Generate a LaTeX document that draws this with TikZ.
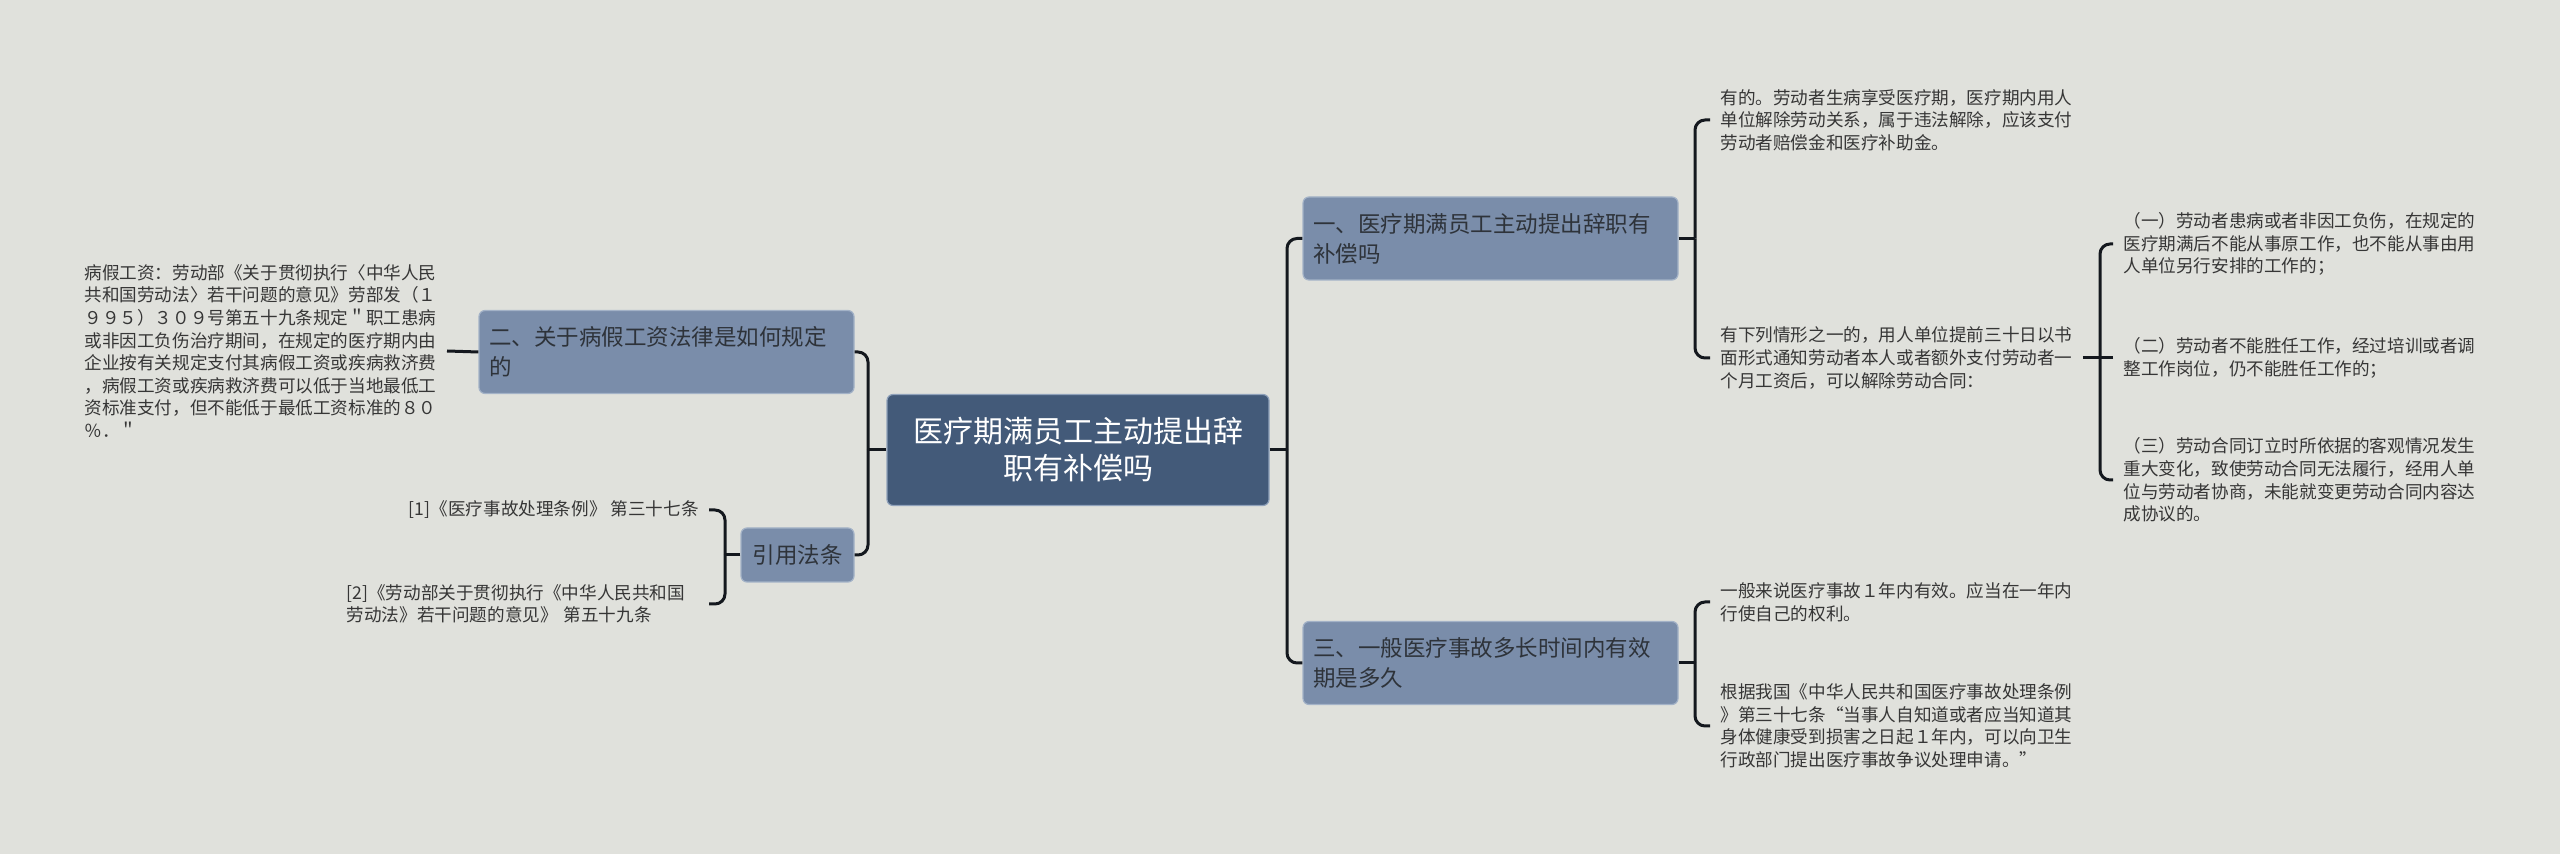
\documentclass[tikz,border=0pt]{standalone}
\usepackage{fontspec}
\setmainfont{Noto Sans CJK SC}
\definecolor{bgc}{HTML}{E0E1DC}
\definecolor{linec}{HTML}{14181E}
\definecolor{rootc}{HTML}{435A79}
\definecolor{rootb}{HTML}{8FA1BA}
\definecolor{midc}{HTML}{7A8DAA}
\definecolor{midb}{HTML}{A3B2C7}
\definecolor{boxtext}{HTML}{2E333A}
\definecolor{leaftext}{HTML}{363636}
\begin{document}
\begin{tikzpicture}[x=0.5pt,y=-0.5pt,
  conn/.style={draw=linec,line width=1.5pt,rounded corners=5pt},
  rootbox/.style={fill=rootc,draw=rootb,line width=0.6pt,rounded corners=3pt,text=white,align=center,font=\fontsize{15}{18.5}\selectfont,minimum width=191pt,minimum height=55.5pt,inner sep=0pt},
  midbox/.style={fill=midc,draw=midb,line width=0.6pt,rounded corners=3pt,text=boxtext,align=left,font=\fontsize{11.25}{15}\selectfont,minimum height=41.5pt,text width=177.5pt,inner xsep=5pt,inner ysep=0pt},
  refbox/.style={fill=midc,draw=midb,line width=0.6pt,rounded corners=3pt,text=boxtext,align=center,font=\fontsize{11.25}{15}\selectfont,minimum height=27pt,minimum width=56.5pt,inner sep=0pt},
  leaf/.style={text=leaftext,align=left,font=\fontsize{8.8}{11.3}\selectfont,inner xsep=5pt,inner ysep=0pt},
]
\fill[bgc] (0,0) rectangle (2560,854);
\useasboundingbox (0,0) rectangle (2560,854);

% nodes
\node[rootbox] (root) at (1078,450) {医疗期满员工主动提出辞\\职有补偿吗};
\node[midbox] (b1) at (1490.5,238.5) {一、医疗期满员工主动提出辞职有\\补偿吗};
\node[midbox] (b2) at (666.5,352) {二、关于病假工资法律是如何规定\\的};
\node[midbox] (b3) at (1490.5,663) {三、一般医疗事故多长时间内有效\\期是多久};
\node[refbox] (ref) at (797.5,555) {引用法条};

\node[leaf,anchor=east] (lt) at (447,351) {病假工资：劳动部《关于贯彻执行〈中华人民\\共和国劳动法〉若干问题的意见》劳部发（１\\９９５）３０９号第五十九条规定＂职工患病\\或非因工负伤治疗期间，在规定的医疗期内由\\企业按有关规定支付其病假工资或疾病救济费\\，病假工资或疾病救济费可以低于当地最低工\\资标准支付，但不能低于最低工资标准的８０\\％．＂};
\node[leaf,anchor=east] (r1) at (709,510) {[1]《医疗事故处理条例》 第三十七条};
\node[leaf,anchor=east,text width=176pt] (r2) at (709,604) {[2]《劳动部关于贯彻执行《中华人民共和国\\劳动法》若干问题的意见》 第五十九条};

\node[leaf,anchor=west] (t11) at (1710,120) {有的。劳动者生病享受医疗期，医疗期内用人\\单位解除劳动关系，属于违法解除，应该支付\\劳动者赔偿金和医疗补助金。};
\node[leaf,anchor=west] (t12) at (1710,358) {有下列情形之一的，用人单位提前三十日以书\\面形式通知劳动者本人或者额外支付劳动者一\\个月工资后，可以解除劳动合同：};
\node[leaf,anchor=west] (c1) at (2113,244) {（一）劳动者患病或者非因工负伤，在规定的\\医疗期满后不能从事原工作，也不能从事由用\\人单位另行安排的工作的；};
\node[leaf,anchor=west] (c2) at (2113,358) {（二）劳动者不能胜任工作，经过培训或者调\\整工作岗位，仍不能胜任工作的；};
\node[leaf,anchor=west] (c3) at (2113,480) {（三）劳动合同订立时所依据的客观情况发生\\重大变化，致使劳动合同无法履行，经用人单\\位与劳动者协商，未能就变更劳动合同内容达\\成协议的。};
\node[leaf,anchor=west] (t31) at (1710,602) {一般来说医疗事故１年内有效。应当在一年内\\行使自己的权利。};
\node[leaf,anchor=west] (t32) at (1710,726) {根据我国《中华人民共和国医疗事故处理条例\\》第三十七条“当事人自知道或者应当知道其\\身体健康受到损害之日起１年内，可以向卫生\\行政部门提出医疗事故争议处理申请。”};

% junctions
\coordinate (jL) at (868,450);
\coordinate (jR) at (1287,450);
\coordinate (jRef) at (725,555);
\coordinate (j1) at (1695,238.5);
\coordinate (j3) at (1695,663);
\coordinate (j12) at (2100,358);

% connectors
\draw[conn] (root.west) -- (jL);
\draw[conn] (b2.east) -| (jL);
\draw[conn] (ref.east) -| (jL);
\draw[conn] (b2.west) -- (lt.east);
\draw[conn] (ref.west) -- (jRef);
\draw[conn] (r1.east) -| (jRef);
\draw[conn] (r2.east) -| (jRef);

\draw[conn] (root.east) -- (jR);
\draw[conn] (b1.west) -| (jR);
\draw[conn] (b3.west) -| (jR);

\draw[conn] (b1.east) -- (j1);
\draw[conn] (t11.west) -| (j1);
\draw[conn] (t12.west) -| (j1);

\draw[conn] (b3.east) -- (j3);
\draw[conn] (t31.west) -| (j3);
\draw[conn] (t32.west) -| (j3);

\draw[conn] (t12.east) -- (j12);
\draw[conn] (c1.west) -| (j12);
\draw[conn] (c2.west) -- (j12);
\draw[conn] (c3.west) -| (j12);
\end{tikzpicture}
\end{document}
